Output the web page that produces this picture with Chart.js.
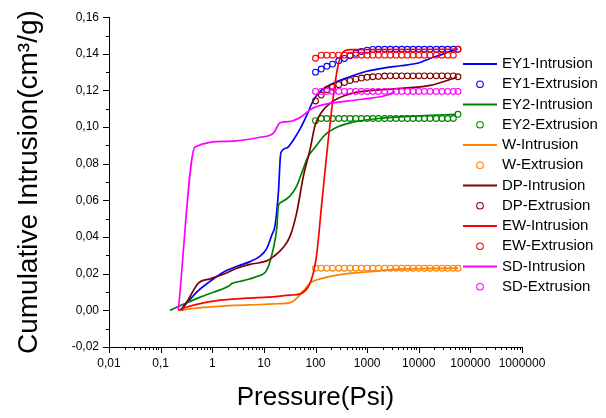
<!DOCTYPE html>
<html>
<head>
<meta charset="utf-8">
<script src="https://cdn.jsdelivr.net/npm/chart.js@4.4.1/dist/chart.umd.min.js"></script>
<style>
  body { margin: 0; background: #fff; }
</style>
</head>
<body>
<canvas id="chart" width="606" height="418"></canvas>
<script>
// axis ticks
const xTicks = [0.01, 0.1, 1, 10, 100, 1000, 10000, 100000, 1000000];
const xTickLabels = ["0,01", "0,1", "1", "10", "100", "1000", "10000", "100000", "1000000"];
const yTicks = [-0.02, 0, 0.02, 0.04, 0.06, 0.08, 0.10, 0.12, 0.14, 0.16];
const yTickLabels = ["-0,02", "0,00", "0,02", "0,04", "0,06", "0,08", "0,10", "0,12", "0,14", "0,16"];

// intrusion curves (pressure in psi, volume in cm3/g)
const ey1InP = [0.238, 0.344, 0.538, 0.906, 1.64, 3.2, 5.4, 8.44, 11.4, 14.2, 16.5, 19.1, 21.3, 27.8, 37.3, 50.3, 67.8, 91, 123, 222, 469, 986, 2070, 4365, 9860, 16600, 30000, 54700];
const ey1InV = [0, 0.005, 0.0108, 0.0158, 0.0208, 0.0243, 0.0266, 0.0296, 0.0338, 0.041, 0.0465, 0.0643, 0.0859, 0.0886, 0.093, 0.099, 0.1065, 0.1146, 0.1195, 0.124, 0.1275, 0.1305, 0.1322, 0.1335, 0.135, 0.1375, 0.14, 0.1428];

const ey2InP = [0.152, 0.321, 0.581, 1.05, 2.05, 2.39, 4.01, 7.28, 11.4, 15.3, 17.8, 19.1, 21.3, 32.2, 43.4, 54.2, 72.8, 98, 153, 278, 585, 1655, 10640, 53000];
const ey2InV = [0, 0.0041, 0.0072, 0.0099, 0.0131, 0.0146, 0.0162, 0.0185, 0.0221, 0.034, 0.045, 0.0571, 0.0589, 0.0625, 0.068, 0.0751, 0.0841, 0.089, 0.0958, 0.1003, 0.103, 0.1047, 0.1062, 0.107];

const wInP = [0.238, 0.43, 0.906, 2.56, 8.44, 17.8, 32.2, 44, 57.5, 78.6, 140, 409, 836, 1787, 3490, 58000];
const wInV = [0, 0.0011, 0.0019, 0.0027, 0.0032, 0.0036, 0.0042, 0.0068, 0.0105, 0.0149, 0.0176, 0.02, 0.0208, 0.0216, 0.0224, 0.023];

const dpInP = [0.256, 0.344, 0.538, 0.906, 1.64, 2.99, 5.4, 11.4, 15.3, 23.9, 32.2, 43.4, 58.3, 78.6, 98.2, 132, 207, 375, 678, 3770, 16600, 54700];
const dpInV = [0, 0.0059, 0.0149, 0.0172, 0.0197, 0.023, 0.0251, 0.027, 0.0293, 0.0345, 0.0405, 0.0535, 0.0733, 0.088, 0.101, 0.1083, 0.1137, 0.1173, 0.1192, 0.121, 0.1228, 0.1272];

const ewInP = [0.22, 0.321, 0.673, 1.42, 4.01, 11.4, 32.2, 50.3, 72.8, 90, 105, 134, 172, 229, 280, 343, 469, 58000];
const ewInV = [0, 0.0018, 0.0041, 0.0056, 0.0065, 0.0072, 0.0083, 0.009, 0.013, 0.02, 0.03, 0.06, 0.09, 0.12, 0.135, 0.141, 0.1423, 0.1425];

const sdInP = [0.22, 0.463, 1.91, 8.44, 15.3, 20.6, 29.9, 50.3, 84.8, 178, 789, 2590, 3490];
const sdInV = [0, 0.0891, 0.0922, 0.0945, 0.0967, 0.1024, 0.103, 0.1053, 0.1101, 0.1128, 0.1152, 0.1177, 0.1195];

// extrusion points, shared pressures
const extP = [100, 129, 166, 214, 282, 363, 468, 603, 776, 1000, 1288, 1660, 2188, 2818, 3631, 4677, 6026, 7762, 10000, 12882, 16596, 21878, 28184, 36308, 46774, 57544];
const ey1Ext = [0.13, 0.1317, 0.1332, 0.1344, 0.1362, 0.1375, 0.1389, 0.1403, 0.1413, 0.142, 0.1424, 0.1425, 0.1425, 0.1425, 0.1425, 0.1425, 0.1425, 0.1425, 0.1425, 0.1425, 0.1425, 0.1425, 0.1425, 0.1425, 0.1425, 0.1425];
const ey2Ext = [0.1035, 0.1047, 0.1047, 0.1047, 0.1047, 0.1047, 0.1047, 0.1047, 0.1047, 0.1047, 0.1047, 0.1047, 0.1047, 0.1047, 0.1047, 0.1047, 0.1047, 0.1047, 0.1047, 0.1047, 0.1047, 0.1047, 0.1047, 0.1047, 0.1047, 0.107];
const wExt = [0.023, 0.023, 0.023, 0.023, 0.023, 0.023, 0.023, 0.023, 0.023, 0.023, 0.023, 0.023, 0.023, 0.023, 0.023, 0.023, 0.023, 0.023, 0.023, 0.023, 0.023, 0.023, 0.023, 0.023, 0.023, 0.023];
const dpExt = [0.1143, 0.1175, 0.1205, 0.1218, 0.1232, 0.1244, 0.1254, 0.1262, 0.1268, 0.1272, 0.1275, 0.1277, 0.1279, 0.128, 0.128, 0.128, 0.128, 0.128, 0.128, 0.128, 0.128, 0.128, 0.128, 0.128, 0.128, 0.1275];
const ewExt = [0.1376, 0.1393, 0.1393, 0.1393, 0.1393, 0.1393, 0.1393, 0.1393, 0.1393, 0.1393, 0.1393, 0.1393, 0.1393, 0.1393, 0.1393, 0.1393, 0.1393, 0.1393, 0.1393, 0.1393, 0.1393, 0.1393, 0.1393, 0.1393, 0.1393, 0.1425];
const sdExt = [0.1195, 0.1195, 0.1195, 0.1195, 0.1195, 0.1195, 0.1195, 0.1195, 0.1195, 0.1195, 0.1195, 0.1195, 0.1195, 0.1195, 0.1195, 0.1195, 0.1195, 0.1195, 0.1195, 0.1195, 0.1195, 0.1195, 0.1195, 0.1195, 0.1195, 0.1195];

const FONT = 'Arial, "Liberation Sans", sans-serif';
Chart.defaults.font.family = FONT;
Chart.defaults.color = "#000";

const series = [
  { label: "EY1-Intrusion", color: "#0000ff", p: ey1InP, v: ey1InV },
  { label: "EY1-Extrusion", color: "#0000ff", p: extP, v: ey1Ext, dots: true },
  { label: "EY2-Intrusion", color: "#008000", p: ey2InP, v: ey2InV },
  { label: "EY2-Extrusion", color: "#008000", p: extP, v: ey2Ext, dots: true },
  { label: "W-Intrusion", color: "#ff8000", p: wInP, v: wInV },
  { label: "W-Extrusion", color: "#ff8000", p: extP, v: wExt, dots: true },
  { label: "DP-Intrusion", color: "#800000", p: dpInP, v: dpInV },
  { label: "DP-Extrusion", color: "#800000", p: extP, v: dpExt, dots: true },
  { label: "EW-Intrusion", color: "#ff0000", p: ewInP, v: ewInV },
  { label: "EW-Extrusion", color: "#ff0000", p: extP, v: ewExt, dots: true },
  { label: "SD-Intrusion", color: "#ff00ff", p: sdInP, v: sdInV },
  { label: "SD-Extrusion", color: "#ff00ff", p: extP, v: sdExt, dots: true },
];

const datasets = series.map((s, i) => ({
  label: s.label,
  data: s.p.map((p, k) => ({ x: p, y: s.v[k] })),
  borderColor: s.color,
  backgroundColor: s.color,
  showLine: !s.dots,
  borderWidth: 1.7,
  pointRadius: s.dots ? 2.9 : 0,
  pointBackgroundColor: "rgba(0,0,0,0)",
  pointBorderColor: s.color,
  pointBorderWidth: 1.1,
  cubicInterpolationMode: "monotone",
  order: series.length - i, // later series on top
}));

// outward major/minor tick marks like the original
const tickMarks = {
  id: "tickMarks",
  afterDraw(chart) {
    const { ctx, chartArea, scales } = chart;
    const x = scales.x, y = scales.y;
    ctx.save();
    ctx.strokeStyle = "#000";
    ctx.lineWidth = 1;
    ctx.beginPath();
    const b = chartArea.bottom, l = chartArea.left;
    for (let e = -2; e <= 6; e++) {
      const px = Math.round(x.getPixelForValue(Math.pow(10, e))) + 0.5;
      ctx.moveTo(px, b); ctx.lineTo(px, b + 6);
      if (e < 6) {
        for (let m = 2; m <= 9; m++) {
          const mx = Math.round(x.getPixelForValue(m * Math.pow(10, e))) + 0.5;
          ctx.moveTo(mx, b); ctx.lineTo(mx, b + 3);
        }
      }
    }
    yTicks.forEach((v, i) => {
      const py = Math.round(y.getPixelForValue(v)) + 0.5;
      ctx.moveTo(l, py); ctx.lineTo(l - 6, py);
      if (i < yTicks.length - 1) {
        const my = Math.round(y.getPixelForValue((v + yTicks[i + 1]) / 2)) + 0.5;
        ctx.moveTo(l, my); ctx.lineTo(l - 3, my);
      }
    });
    ctx.stroke();
    ctx.restore();
  },
};

// legend drawn over the right side of the plot, as in the original
const sideLegend = {
  id: "sideLegend",
  afterDraw(chart) {
    const ctx = chart.ctx;
    ctx.save();
    ctx.font = "15px " + FONT;
    ctx.textBaseline = "middle";
    chart.data.datasets.forEach((ds, i) => {
      const y = 64 + i * 20.25;
      ctx.strokeStyle = ds.borderColor;
      ctx.beginPath();
      if (ds.showLine) {
        ctx.lineWidth = 2;
        ctx.moveTo(463, y); ctx.lineTo(497, y);
      } else {
        ctx.lineWidth = 1.1;
        ctx.arc(480, y, 3.3, 0, Math.PI * 2);
      }
      ctx.stroke();
      ctx.fillStyle = "#000";
      ctx.fillText(ds.label, 502, y);
    });
    ctx.restore();
  },
};

new Chart(document.getElementById("chart"), {
  type: "scatter",
  data: { datasets: datasets },
  options: {
    responsive: false,
    animation: false,
    devicePixelRatio: 1,
    layout: { padding: { left: 0, right: 84, top: 12, bottom: 0 } },
    plugins: { legend: { display: false }, tooltip: { enabled: false } },
    scales: {
      x: {
        type: "logarithmic",
        min: 0.01,
        max: 1000000,
        afterBuildTicks: (s) => { s.ticks = xTicks.map((v) => ({ value: v })); },
        afterFit: (s) => { s.height = 71; },
        ticks: {
          callback: (v, i) => xTickLabels[i],
          autoSkip: false,
          maxRotation: 0,
          padding: 9,
          font: { size: 12 },
        },
        grid: { display: false, drawTicks: false },
        border: { display: true, color: "#000", width: 1 },
        title: { display: true, text: "Pressure(Psi)", font: { size: 26 }, padding: { top: 0, bottom: 5 } },
      },
      y: {
        min: -0.02,
        max: 0.16,
        afterBuildTicks: (s) => { s.ticks = yTicks.map((v) => ({ value: v })); },
        afterFit: (s) => { s.width = 109; },
        ticks: {
          callback: (v, i) => yTickLabels[i],
          autoSkip: false,
          padding: 10,
          font: { size: 12 },
        },
        grid: { display: false, drawTicks: false },
        border: { display: true, color: "#000", width: 1 },
        title: { display: true, text: "Cumulative Intrusion(cm³/g)", font: { size: 28 }, padding: { top: 12, bottom: 0 } },
      },
    },
  },
  plugins: [tickMarks, sideLegend],
});
</script>
</body>
</html>
